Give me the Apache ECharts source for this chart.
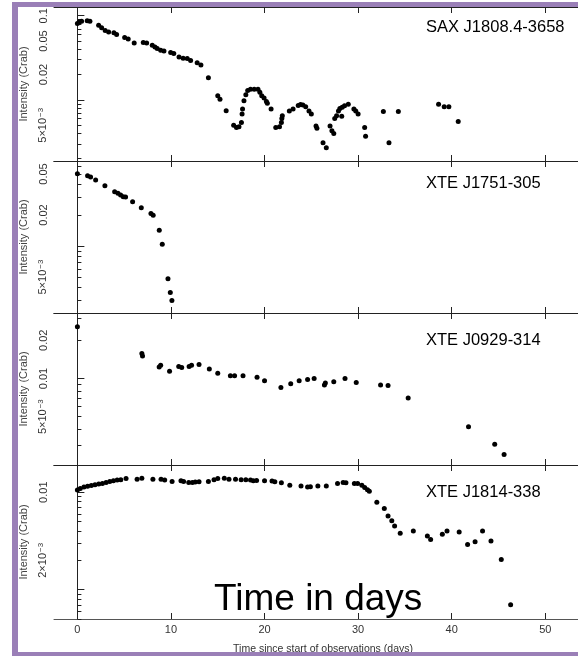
<!DOCTYPE html>
<html>
<head>
<meta charset="utf-8">
<script src="https://cdn.jsdelivr.net/npm/echarts@6/dist/echarts.min.js"></script>
<style>
  html, body { margin: 0; padding: 0; background: #fff; }
  #chart { width: 578px; height: 656px; }
</style>
</head>
<body>
<div id="chart"></div>
<script>
// light curves, days since start vs intensity (Crab)
var saxDays = [0.0, 0.2, 0.45, 1.05, 1.34, 2.27, 2.59, 2.97, 3.34, 3.9, 4.19, 5.05, 5.43, 6.07, 7.04, 7.4, 8.0, 8.29, 8.53, 8.9,
  9.25, 9.97, 10.3, 10.86, 11.3, 11.74, 12.1, 12.8, 13.2, 14.0, 15.0, 15.24, 15.9, 16.7, 17.0, 17.27, 17.53, 17.6, 17.65, 17.8,
  18.0, 18.2, 18.5, 18.9, 19.3, 19.5, 19.7, 19.95, 20.2, 20.3, 20.7, 21.2, 21.6, 21.8, 21.85, 21.9, 22.65, 23.05, 23.6, 23.85,
  24.1, 24.4, 24.75, 25.0, 25.5, 25.6, 26.25, 26.6, 27.0, 27.2, 27.4, 27.5, 27.7, 27.9, 28.05, 28.25, 28.3, 28.55, 28.95, 29.55,
  29.75, 30.0, 30.7, 30.8, 32.7, 33.3, 34.3, 38.6, 39.2, 39.7, 40.7];
var saxFlux = [0.081, 0.084, 0.086, 0.087, 0.086, 0.077, 0.072, 0.067, 0.064, 0.063, 0.060, 0.055, 0.053, 0.0475, 0.048, 0.0475, 0.0447, 0.0426, 0.0407, 0.0389,
  0.038, 0.0365, 0.0355, 0.0324, 0.0312, 0.031, 0.0293, 0.0277, 0.026, 0.0183, 0.0112, 0.0102, 0.00745, 0.0050, 0.0047, 0.0048, 0.0054, 0.0068, 0.0078, 0.0098,
  0.0115, 0.0129, 0.0134, 0.0134, 0.0134, 0.0123, 0.0112, 0.0105, 0.0096, 0.0091, 0.0078, 0.0047, 0.0048, 0.0054, 0.0060, 0.0065, 0.0074, 0.0078, 0.0086, 0.0088,
  0.0087, 0.0083, 0.0074, 0.0068, 0.0049, 0.0046, 0.0031, 0.0027, 0.0049, 0.0043, 0.0040, 0.0060, 0.0065, 0.0074, 0.0079, 0.0064, 0.0082, 0.0085, 0.0089, 0.0078,
  0.0074, 0.0068, 0.0047, 0.0037, 0.0073, 0.0031, 0.0073, 0.0089, 0.0083, 0.0083, 0.00555];

var j1751Days = [0, 1.09, 1.41, 1.95, 2.94, 3.98, 4.33, 4.62, 4.9, 5.15, 5.9, 6.83, 7.86, 8.1, 8.75, 9.07, 9.68, 9.93, 10.1];
var j1751Flux = [0.0503, 0.0482, 0.0468, 0.0438, 0.0385, 0.0336, 0.0325, 0.0313, 0.0301, 0.0299, 0.0269, 0.0236, 0.0207, 0.0199, 0.0142, 0.0104, 0.00482, 0.00355, 0.00297];

var j0929Days = [0, 6.89, 6.96, 8.74, 8.9, 9.85, 10.83, 11.15, 11.94, 12.2, 13.0, 14.1, 15.0, 16.35, 16.8, 17.7, 19.2, 20.0,
  21.75, 22.8, 23.7, 24.6, 25.3, 26.4, 26.5, 27.4, 28.6, 29.8, 32.4, 33.2, 35.35, 41.8, 44.6, 45.6];
var j0929Flux = [0.0255, 0.0157, 0.0150, 0.0123, 0.0127, 0.0114, 0.0124, 0.0122, 0.0124, 0.0127, 0.0129, 0.0119, 0.0110, 0.0105, 0.0105, 0.0105, 0.0102, 0.0096,
  0.0085, 0.0091, 0.0096, 0.0098, 0.0100, 0.0089, 0.0092, 0.0094, 0.0100, 0.0093, 0.0089, 0.0088, 0.0070, 0.00416, 0.00303, 0.00252];

var j1814Days = [0, 0.31, 0.7, 1.09, 1.49, 1.88, 2.28, 2.67, 3.07, 3.46, 3.85, 4.25, 4.64, 5.2, 6.38, 6.89, 8.07, 8.94, 9.33, 10.12,
  11.07, 11.35, 11.9, 12.29, 12.6, 13.0, 14.0, 14.6, 15.0, 15.7, 16.2, 16.9, 17.5, 18.0, 18.5, 18.8, 19.15, 20.0, 20.8, 21.1,
  21.8, 22.7, 23.9, 24.6, 24.9, 25.7, 26.6, 27.8, 28.4, 28.7, 29.6, 29.95, 30.4, 30.7, 31.0, 31.2, 32.0, 32.8, 33.2, 33.6,
  33.9, 34.5, 35.9, 37.4, 37.75, 39.0, 39.5, 40.8, 41.7, 42.5, 43.3, 44.2, 45.3, 46.3];
var j1814Flux = [0.0105, 0.0109, 0.0113, 0.0115, 0.0117, 0.0119, 0.0121, 0.0123, 0.0126, 0.0129, 0.0131, 0.0133, 0.0134, 0.0138, 0.0136, 0.0139, 0.0136, 0.0136, 0.0133, 0.0129,
  0.0131, 0.0129, 0.0126, 0.0126, 0.0127, 0.0128, 0.0129, 0.0134, 0.0138, 0.0139, 0.0136, 0.0136, 0.0134, 0.0134, 0.0133, 0.0131, 0.0132, 0.0131, 0.0130, 0.0128,
  0.0125, 0.0118, 0.0116, 0.0113, 0.0114, 0.0116, 0.0116, 0.0123, 0.0126, 0.0125, 0.0123, 0.0123, 0.0118, 0.0112, 0.0106, 0.0102, 0.0079, 0.0068, 0.0057, 0.0051,
  0.0045, 0.0038, 0.0040, 0.00355, 0.00327, 0.0037, 0.0040, 0.0039, 0.0029, 0.0031, 0.0040, 0.00315, 0.00204, 0.0007];

var sourceNames = ['SAX J1808.4-3658', 'XTE J1751-305', 'XTE J0929-314', 'XTE J1814-338'];
var dayTicks = [0, 10, 20, 30, 40, 50];
var yMin = [0.00188, 0.00224, 0.00208, 0.0005];
var yMax = [0.127, 0.0669, 0.0328, 0.019];
var yLabels = [[0.1, 0.05, 0.02, 0.005], [0.05, 0.02, 0.005], [0.02, 0.01, 0.005], [0.01, 0.002]];

var panels = [
  { days: saxDays, flux: saxFlux },
  { days: j1751Days, flux: j1751Flux },
  { days: j0929Days, flux: j0929Flux },
  { days: j1814Days, flux: j1814Flux }
];

var gridTop = [7, 161, 313, 465];
var gridHeight = [154, 152, 152, 154];
var font = '"Liberation Sans", Arial, sans-serif';
var purple = '#9a7fb7';

function fmtLabel(v) {
  if (v >= 0.0099) return String(+v.toPrecision(2));
  var e = Math.floor(Math.log10(v) + 1e-9);
  var m = Math.round(v / Math.pow(10, e));
  return m + '×10{s|−' + (-e) + '}';
}

// log ticks: decades (long) and 2..9 multiples (short)
function logTicks(lo, hi, major) {
  var out = [];
  for (var e = -5; e <= 0; e++) {
    for (var m = 1; m <= 9; m++) {
      if ((m === 1) !== major) continue;
      var v = +(m * Math.pow(10, e)).toPrecision(3);
      if (v >= lo && v <= hi) out.push(v);
    }
  }
  return out;
}

var grids = [], xAxes = [], yAxes = [], series = [], titles = [];
panels.forEach(function (p, i) {
  var last = i === panels.length - 1;
  grids.push({ left: 54, right: 0, top: gridTop[i], height: gridHeight[i], outerBoundsMode: 'none' });

  xAxes.push({
    type: 'value', gridIndex: i, position: 'bottom', min: -2.5, max: 53.5,
    splitLine: { show: false },
    axisLine: { lineStyle: { color: last ? '#555' : '#222', width: 1 } },
    axisTick: { inside: true, length: 6, customValues: dayTicks, lineStyle: { color: '#222' } },
    axisLabel: { show: last, customValues: dayTicks, margin: 5, color: '#333', fontSize: 11, fontFamily: font },
    name: last ? 'Time since start of observations (days)' : '',
    nameLocation: 'middle', nameGap: 25,
    nameTextStyle: { color: '#333', fontSize: 10.5, fontFamily: font, padding: [0, 0, 0, 14] }
  });
  xAxes.push({
    type: 'value', gridIndex: i, position: 'top', min: -2.5, max: 53.5,
    splitLine: { show: false },
    axisLine: { lineStyle: { color: '#222', width: 1 } },
    axisTick: { inside: true, length: 6, customValues: dayTicks, lineStyle: { color: '#222' } },
    axisLabel: { show: false }
  });

  yAxes.push({
    type: 'log', logBase: 10, gridIndex: i, position: 'left', min: yMin[i], max: yMax[i],
    splitLine: { show: false },
    axisLine: { lineStyle: { color: '#222', width: 1 } },
    axisTick: { inside: true, length: 4, customValues: logTicks(yMin[i], yMax[i], false), lineStyle: { color: '#222' } },
    axisLabel: {
      customValues: yLabels[i], rotate: 90, margin: 5, color: '#333', fontSize: 11, fontFamily: font,
      formatter: fmtLabel,
      rich: { s: { fontSize: 8, fontFamily: font, color: '#333', verticalAlign: 'top', padding: [0, 0, 4, 1] } }
    },
    name: 'Intensity (Crab)', nameLocation: 'middle', nameGap: 23,
    nameTextStyle: { color: '#444', fontSize: 11, fontFamily: font }
  });
  yAxes.push({
    type: 'log', logBase: 10, gridIndex: i, position: 'left', min: yMin[i], max: yMax[i],
    splitLine: { show: false },
    axisLine: { show: false },
    axisTick: { inside: true, length: 7, customValues: logTicks(yMin[i], yMax[i], true), lineStyle: { color: '#222' } },
    axisLabel: { show: false }
  });

  series.push({
    type: 'scatter', xAxisIndex: 2 * i, yAxisIndex: 2 * i,
    symbol: 'circle', symbolSize: 5,
    itemStyle: { color: '#000', opacity: 1 },
    data: p.days.map(function (d, k) { return [d, p.flux[k]]; })
  });

  titles.push({
    text: sourceNames[i], left: 426, top: gridTop[i] + [12, 14, 19, 19][i], padding: 0,
    textStyle: { fontSize: 16.5, fontWeight: 'normal', color: '#000', fontFamily: font }
  });
});

var chart = echarts.init(document.getElementById('chart'));
chart.setOption({
  animation: false,
  backgroundColor: '#fff',
  title: titles,
  grid: grids,
  xAxis: xAxes,
  yAxis: yAxes,
  series: series,
  graphic: [
    { type: 'text', left: 214, top: 581, z: 50,
      style: { text: 'Time in days', font: '37px ' + font, fill: '#000' } },
    // purple frame
    { type: 'rect', z: 100, shape: { x: 12, y: 2, width: 566, height: 5 }, style: { fill: purple } },
    { type: 'rect', z: 100, shape: { x: 12, y: 2, width: 6, height: 654 }, style: { fill: purple } },
    { type: 'rect', z: 100, shape: { x: 12, y: 652, width: 566, height: 4 }, style: { fill: purple } }
  ]
});
</script>
</body>
</html>
